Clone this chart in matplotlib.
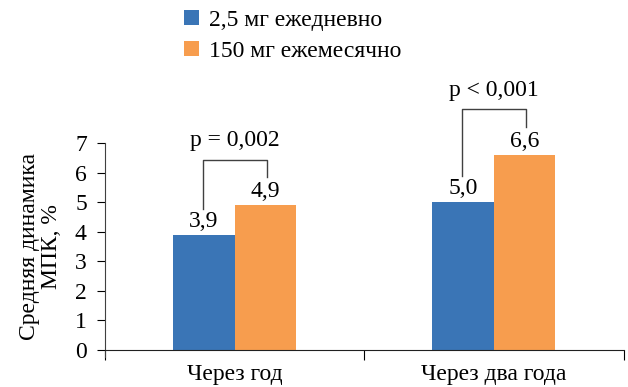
import matplotlib.pyplot as plt
import numpy as np

# ---------- data ----------
categories = ["Через год", "Через два года"]
series_names = ["2,5 мг ежедневно", "150 мг ежемесячно"]
daily = [3.9, 5.0]
monthly = [4.9, 6.6]
value_labels_daily = ["3,9", "5,0"]
value_labels_monthly = ["4,9", "6,6"]
p_labels = ["p = 0,002", "p < 0,001"]
yticks = [0, 1, 2, 3, 4, 5, 6, 7]

# ---------- style ----------
plt.rcParams["font.family"] = "serif"
plt.rcParams["font.serif"] = ["Liberation Serif", "DejaVu Serif"]
FS = 17
BLUE = "#3A75B6"
ORANGE = "#F79D4E"

fig = plt.figure(figsize=(6.28, 3.87), dpi=100)
ax = fig.add_axes([0.167, 0.0956, 0.826, 0.534])

x = np.arange(len(categories))
w = 0.237
ax.bar(x - w / 2, daily, width=w, color=BLUE, label=series_names[0])
ax.bar(x + w / 2, monthly, width=w, color=ORANGE, label=series_names[1])

# value labels
for i in range(len(categories)):
    ax.text(x[i] - w / 2, daily[i] + 0.1, value_labels_daily[i],
            ha="center", va="bottom", fontsize=FS)
    ax.text(x[i] + w / 2, monthly[i] + 0.1, value_labels_monthly[i],
            ha="center", va="bottom", fontsize=FS)

# significance brackets
for i in range(len(categories)):
    top = monthly[i] + 1.55
    left_bot = daily[i] + 0.88
    right_bot = monthly[i] + 0.97
    xl, xr = x[i] - w / 2 - 0.005, x[i] + w / 2 + 0.005
    ax.plot([xl, xl, xr, xr], [left_bot, top, top, right_bot],
            color="#404040", lw=1.0, clip_on=False)
    ax.text((xl + xr) / 2, top + 0.28, p_labels[i], ha="center", va="bottom",
            fontsize=FS)

# axes
ax.set_xlim(-0.5, 1.5)
ax.set_ylim(0, 7)
ax.set_yticks(yticks)
ax.set_yticklabels([str(t) for t in yticks], fontsize=FS)
ax.set_xticks(x)
ax.set_xticklabels(categories, fontsize=FS)
ax.tick_params(axis="x", length=0, pad=10)
ax.tick_params(axis="y", length=6, width=0.8, pad=7, direction="out")
# category boundary ticks
ax.set_xticks([-0.5, 0.5, 1.5], minor=True)
ax.tick_params(axis="x", which="minor", length=7, width=0.8, direction="out")

for s in ["top", "right"]:
    ax.spines[s].set_visible(False)
ax.spines["left"].set_color("#404040")
ax.spines["bottom"].set_color("#202020")
ax.spines["left"].set_bounds(-0.25, 7)

ax.set_ylabel("Средняя динамика\nМПК, %", fontsize=FS, linespacing=1.12, labelpad=9)

fig.legend(loc="upper left", bbox_to_anchor=(0.271, 1.01), frameon=False,
           fontsize=FS, handlelength=0.6, handleheight=0.6, handletextpad=0.45,
           labelspacing=0.42, borderaxespad=0.2)

fig.savefig("out.png", dpi=100)
